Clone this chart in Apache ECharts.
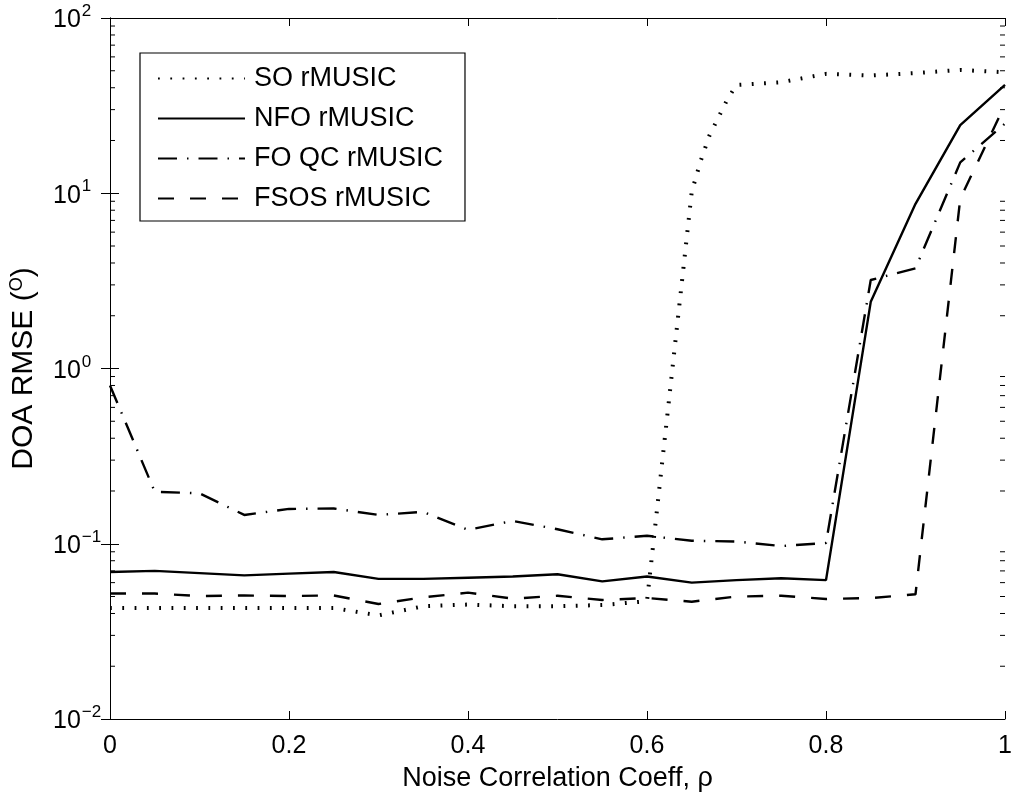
<!DOCTYPE html>
<html>
<head>
<meta charset="utf-8">
<script src="https://cdn.jsdelivr.net/npm/echarts@6/dist/echarts.min.js"></script>
<style>
html,body{margin:0;padding:0;background:#fff;}
#chart{width:1014px;height:803px;}
</style>
</head>
<body>
<div id="chart"></div>
<script>
// ---- data ----
var xVals = [0,0.05,0.1,0.15,0.2,0.25,0.3,0.35,0.4,0.45,0.5,0.55,0.6,0.65,0.7,0.75,0.8,0.85,0.9,0.95,1];
var nfoVals = [0.069,0.070,0.068,0.066,0.0675,0.069,0.063,0.063,0.064,0.065,0.067,0.061,0.065,0.060,0.062,0.0635,0.062,2.40,8.7,24.5,41.5];
var foqcVals = [0.80,0.198,0.194,0.146,0.158,0.159,0.146,0.152,0.120,0.135,0.121,0.106,0.111,0.104,0.103,0.097,0.101,3.20,3.73,15.0,25.0];
var fsosVals = [0.052,0.052,0.0503,0.0507,0.0503,0.0507,0.0453,0.0495,0.0526,0.0486,0.0505,0.0478,0.049,0.0467,0.050,0.0505,0.0484,0.049,0.0515,9.3,32];
var soX = [0,0.05,0.1,0.15,0.2,0.25,0.3,0.35,0.4,0.45,0.5,0.55,0.6,0.65,0.66,0.67,0.68,0.69,0.7,0.75,0.8,0.85,0.9,0.95,1];
var soVals = [0.043,0.043,0.043,0.043,0.043,0.043,0.039,0.044,0.045,0.044,0.044,0.0447,0.047,10.2,15.3,21.5,27.2,34.5,41.5,43,48,47,48.5,50.5,49];
var seriesNames = ['SO rMUSIC','NFO rMUSIC','FO QC rMUSIC','FSOS rMUSIC'];
var minorMantissas = [2,3,4,5,6,7,8,9];
var decades = [0.01,0.1,1,10];
var xTitle = 'Noise Correlation Coeff, \u03c1';
var yTitle = 'DOA RMSE ({s|O})';

function pairs(xs, ys){ return xs.map(function(x,i){ return [x, ys[i]]; }); }
var minorData = [];
decades.forEach(function(d){ minorMantissas.forEach(function(m){ minorData.push([0, m*d]); }); });

var FONT = 'Liberation Sans, Arial, Helvetica, sans-serif';
var chart = echarts.init(document.getElementById('chart'), null, {renderer:'canvas'});
var axisLine = {show:true, lineStyle:{color:'#000', width:1}};
var option = {
  backgroundColor:'#fff',
  animation:false,
  grid:{left:110, right:9, top:18, bottom:84, containLabel:false, outerBoundsMode:'none'},
  legend:{
    data:seriesNames,
    orient:'vertical',
    left:140, top:53,
    padding:[12,22,9,17],
    itemWidth:87, itemHeight:26, itemGap:13,
    borderColor:'#000', borderWidth:1.2, backgroundColor:'#fff',
    itemStyle:{opacity:0},
    textStyle:{fontFamily:FONT, fontSize:27, color:'#000', padding:[0,0,0,4]},
    selectedMode:false
  },
  xAxis:[
    {type:'value', min:0, max:1, interval:0.2, position:'bottom',
     axisLine:axisLine, splitLine:{show:false},
     axisTick:{inside:true, length:8, lineStyle:{color:'#000'}},
     axisLabel:{fontFamily:FONT, fontSize:25, color:'#000', margin:15},
     name:xTitle, nameLocation:'middle', nameGap:46, nameMoveOverlap:false,
     nameTextStyle:{fontFamily:FONT, fontSize:27, color:'#000'}},
    {type:'value', min:0, max:1, interval:0.2, position:'top',
     axisLine:axisLine, splitLine:{show:false},
     axisTick:{inside:true, length:8, lineStyle:{color:'#000'}},
     axisLabel:{show:false}}
  ],
  yAxis:[
    {type:'log', logBase:10, min:0.01, max:100, position:'left',
     axisLine:axisLine, splitLine:{show:false},
     axisTick:{inside:true, length:9, lineStyle:{color:'#000'}},
     axisLabel:{fontFamily:FONT, color:'#000', align:'left', margin:57,
       formatter:function(v){ var e = Math.round(Math.log10(v)); return '{b|10}{e|' + (e<0 ? '\u2212'+(-e) : e) + '}'; },
       rich:{b:{fontFamily:FONT, fontSize:25, color:'#000', verticalAlign:'bottom'},
             e:{fontFamily:FONT, fontSize:17, color:'#000', verticalAlign:'bottom', padding:[0,0,13,1]}}},
     name:yTitle, nameLocation:'middle', nameGap:70, nameRotate:90, nameMoveOverlap:false,
     nameTextStyle:{fontFamily:FONT, fontSize:30, color:'#000',
       rich:{s:{fontFamily:FONT, fontSize:18, color:'#000', verticalAlign:'bottom', padding:[0,0,14,0]}}}},
    {type:'log', logBase:10, min:0.01, max:100, position:'right',
     axisLine:axisLine, splitLine:{show:false},
     axisTick:{inside:true, length:9, lineStyle:{color:'#000'}},
     axisLabel:{show:false}}
  ],
  series:[
    {name:seriesNames[0], type:'line', data:pairs(soX, soVals), symbol:'none',
     lineStyle:{color:'#000', width:4, type:[1.8,10.5], cap:'butt'}, itemStyle:{color:'#000'}},
    {name:seriesNames[1], type:'line', data:pairs(xVals, nfoVals), symbol:'none',
     lineStyle:{color:'#000', width:2.4, type:'solid'}, itemStyle:{color:'#000'}},
    {name:seriesNames[2], type:'line', data:pairs(xVals, foqcVals), symbol:'none',
     lineStyle:{color:'#000', width:2.4, type:[19,10,1.5,10]}, itemStyle:{color:'#000'}},
    {name:seriesNames[3], type:'line', data:pairs(xVals, fsosVals), symbol:'none',
     lineStyle:{color:'#000', width:2.4, type:[16,16]}, itemStyle:{color:'#000'}},
    {name:'minorTicks', type:'custom', data:minorData, silent:true, clip:false, z:5,
     renderItem:function(params, api){
       var p = api.coord([0, api.value(1)]);
       var cs = params.coordSys;
       var l = cs.x, r = cs.x + cs.width;
       return {type:'group', children:[
         {type:'line', shape:{x1:l, y1:p[1], x2:l+5, y2:p[1]}, style:{stroke:'#000', lineWidth:1}},
         {type:'line', shape:{x1:r-5, y1:p[1], x2:r, y2:p[1]}, style:{stroke:'#000', lineWidth:1}}
       ]};
     }}
  ]
};
chart.setOption(option);
</script>
</body>
</html>
